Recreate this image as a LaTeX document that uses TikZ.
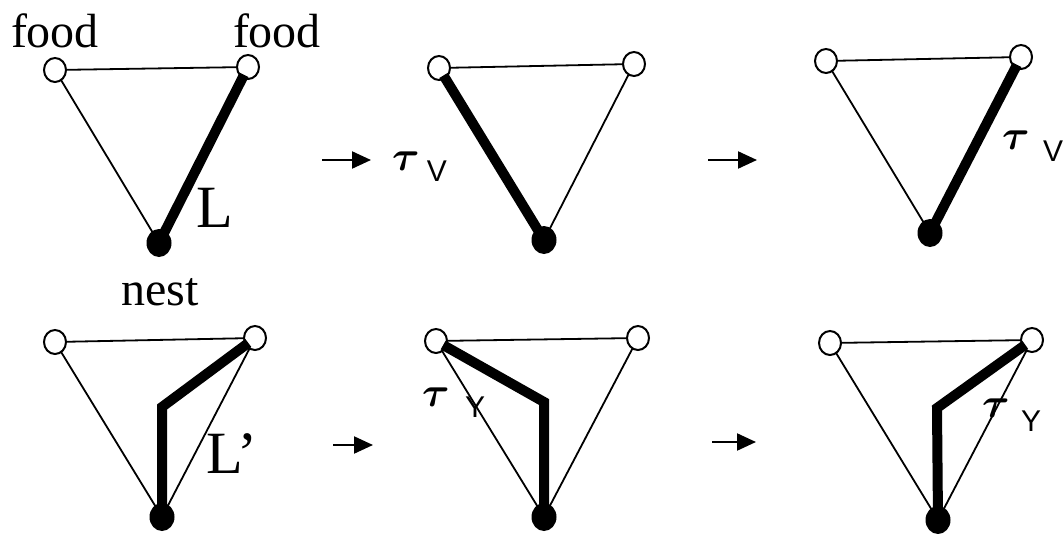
\documentclass[tikz,border=0pt]{standalone}
\usepackage{fontspec}
\setmainfont{Liberation Serif}
\newfontfamily\sansf{Liberation Sans}
\usepackage{amsmath}
\usepackage{bm}
\usepackage{graphicx}
\usetikzlibrary{arrows.meta,backgrounds,shapes.geometric}
\newcommand{\bigtau}{\scalebox{4.2}{$\bm{\tau}$}}
\begin{document}
\begin{tikzpicture}[x=1pt,y=-1pt,
  hollow/.style={ellipse,draw,line width=2pt,fill=white,minimum width=22pt,minimum height=24pt,inner sep=0pt},
  nestnode/.style={ellipse,fill=black,minimum width=25pt,minimum height=28pt,inner sep=0pt},
  edgethin/.style={line width=1.8pt},
  heavy/.style={line width=10pt,line join=miter,shorten <=-4pt,shorten >=-4pt},
  arr/.style={line width=2.2pt,-{Triangle[length=19pt,width=17pt]}},
  word/.style={inner sep=0pt,anchor=base,font=\fontsize{48}{50}\selectfont},
  bigword/.style={inner sep=0pt,anchor=base,font=\fontsize{60}{62}\selectfont},
  taulbl/.style={inner sep=0pt},
  sublbl/.style={inner sep=0pt,font=\sansf\fontsize{30}{30}\selectfont}]
\useasboundingbox (0,0) rectangle (1063,533);

% ---------- panel 1 ----------
\node[hollow] (a1) at (55,70) {};
\node[hollow] (b1) at (248,67) {};
\node[nestnode] (n1) at (159,243) {};
\begin{scope}[on background layer]
  \draw[edgethin] (a1.center) -- (b1.center);
  \draw[edgethin] (a1.center) -- (n1.center);
\end{scope}
\draw[heavy] (b1) -- (n1);
\node[word] (food1) at (55,47) {food};
\node[word] (food2) at (277,47) {food};
\node[bigword] (L1) at (215,227) {L};

% ---------- arrow 1 ----------
\coordinate (s1) at (322,160);
\coordinate (e1) at (371,160);
\draw[arr] (s1) -- (e1);
\node[taulbl] (tau1) at (406,161) {\bigtau};
\node[sublbl] (v1) at (437,171) {V};

% ---------- panel 2 ----------
\node[hollow] (a2) at (439,68) {};
\node[hollow] (b2) at (634,64) {};
\node[nestnode] (n2) at (544,240) {};
\begin{scope}[on background layer]
  \draw[edgethin] (a2.center) -- (b2.center);
  \draw[edgethin] (b2.center) -- (n2.center);
\end{scope}
\draw[heavy] (a2) -- (n2);

% ---------- arrow 2 ----------
\coordinate (s2) at (708,160);
\coordinate (e2) at (757,160);
\draw[arr] (s2) -- (e2);

% ---------- panel 3 ----------
\node[hollow] (a3) at (826,61) {};
\node[hollow] (b3) at (1021,57) {};
\node[nestnode] (n3) at (930,233) {};
\begin{scope}[on background layer]
  \draw[edgethin] (a3.center) -- (b3.center);
  \draw[edgethin] (a3.center) -- (n3.center);
\end{scope}
\draw[heavy] (b3) -- (n3);
\node[taulbl] (tau3) at (1016,140) {\bigtau};
\node[sublbl] (v3) at (1053,151) {V};

% ---------- panel 4 ----------
\node[word] (nest) at (160,305) {nest};
\node[hollow] (a4) at (55,342) {};
\node[hollow] (b4) at (255,338) {};
\node[nestnode] (n4) at (162,517) {};
\coordinate (k4) at (162,407);
\begin{scope}[on background layer]
  \draw[edgethin] (a4.center) -- (b4.center);
  \draw[edgethin] (a4.center) -- (n4.center);
  \draw[edgethin] (b4.center) -- (n4.center);
\end{scope}
\draw[heavy] (b4) -- (k4) -- (n4.center);
\node[bigword] (L2) at (232,473) {L'};

% ---------- arrow 3 ----------
\coordinate (s3) at (333,445);
\coordinate (e3) at (373,445);
\draw[arr] (s3) -- (e3);

% ---------- panel 5 ----------
\node[hollow] (a5) at (436,341) {};
\node[hollow] (b5) at (638,338) {};
\node[nestnode] (n5) at (544,517) {};
\coordinate (k5) at (544,402);
\begin{scope}[on background layer]
  \draw[edgethin] (a5.center) -- (b5.center);
  \draw[edgethin] (a5.center) -- (n5.center);
  \draw[edgethin] (b5.center) -- (n5.center);
\end{scope}
\draw[heavy] (a5) -- (k5) -- (n5.center);
\node[taulbl] (tau5) at (436,397) {\bigtau};
\node[sublbl] (y5) at (475,407) {Y};

% ---------- arrow 4 ----------
\coordinate (s4) at (712,442);
\coordinate (e4) at (756,442);
\draw[arr] (s4) -- (e4);

% ---------- panel 6 ----------
\node[hollow] (a6) at (830,343) {};
\node[hollow] (b6) at (1032,340) {};
\node[nestnode] (n6) at (938,520) {};
\coordinate (k6) at (937,408);
\begin{scope}[on background layer]
  \draw[edgethin] (a6.center) -- (b6.center);
  \draw[edgethin] (a6.center) -- (n6.center);
  \draw[edgethin] (b6.center) -- (n6.center);
\end{scope}
\draw[heavy] (b6) -- (k6) -- (n6.center);
\node[taulbl] (tau6) at (996,408) {\bigtau};
\node[sublbl] (y6) at (1031,421) {Y};
\end{tikzpicture}
\end{document}
